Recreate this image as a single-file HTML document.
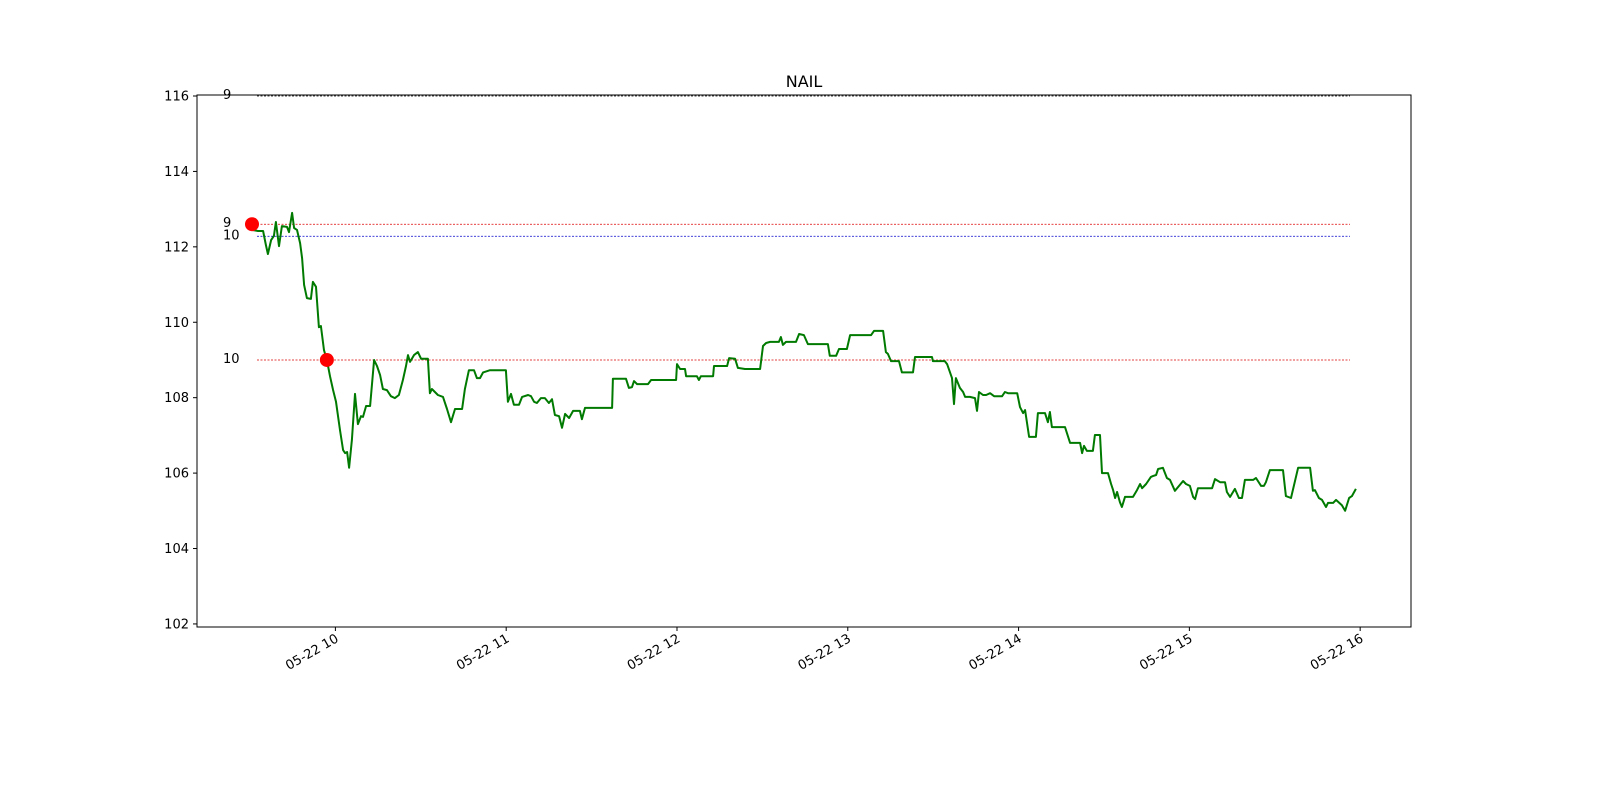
<!DOCTYPE html>
<html><head><meta charset="utf-8"><style>
body{margin:0;background:#fff}
svg{font-family:"DejaVu Sans","Liberation Sans",sans-serif}
</style></head><body>
<svg id="chart" width="1600" height="800" xmlns="http://www.w3.org/2000/svg">
<rect width="1600" height="800" fill="#fff"/>
<text x="804" y="87" font-size="16" text-anchor="middle">NAIL</text>
<g id="levels"></g>
<g id="series"></g>
<g id="markers"></g>
<g id="yaxis"></g>
<g id="xaxis"></g>
<rect x="197" y="95" width="1214" height="532" fill="none" stroke="#000" stroke-width="1"/>
</svg>
<script>
const minutes=[0.7,2.8,4.6,5.6,6.3,7.4,8.4,9.1,10.2,11.2,13,13.7,14.8,15.5,16.5,17.6,18.3,19,20,21.4,22.1,23.2,24.2,24.9,26,27,28.1,29.2,30.2,31.6,32.7,33.4,34.1,34.8,35.8,36.9,37.9,39,39.7,40.8,42.2,43.6,44.6,45.7,46.7,48.1,49.5,50.9,52.3,53.7,54.8,55.5,56.2,57.6,59,60.1,62.5,63.2,63.9,66,67.8,69.2,70.6,72,74.5,75.5,76.9,78.7,79.7,80.8,81.9,84.3,89.9,90.6,91.7,92.7,94.5,95.6,97.7,98.7,99.8,100.8,102.2,103.6,105,106.1,107.1,108.6,109.6,110.7,112.1,113.5,115.9,116.6,117.7,127.2,127.5,132.1,133.1,134.2,134.9,136,139.8,140.9,149.7,150,151.1,152.8,153.2,157,157.7,158.4,162.7,163,167.6,168.3,170.4,171.4,173.9,179.2,180.2,181.3,182.7,185.8,186.5,187.2,188.3,191.8,192.9,194.6,196,203,203.7,205.9,206.9,209.7,210.8,218.2,219.2,222.4,223.4,224.1,225.2,228,229,232.9,233.6,239.6,239.9,244.1,244.9,246.6,247.3,248,249.4,250.5,251.2,252.9,254.7,255.4,256.1,257.5,258.6,260,261.4,264.2,265.2,266.3,269.5,270.5,271.6,272.3,273.7,276.1,276.8,279.3,280.3,281,281.7,286.3,288.1,291.6,292.3,293,294,296.1,296.8,298.6,299.3,301.4,302.5,303.2,303.9,304.6,305.6,306.3,307.4,310.2,311.6,312.7,313.4,314.8,316.5,317.2,318.3,319,320.7,322.1,323.2,324.9,326,327.8,328.8,330.2,331.3,332,333,338,339,340.8,342.5,343.2,344.3,346,347.4,348.5,349.5,352.4,353.4,355.2,356.2,356.9,358.3,362.9,363.9,365.7,368.2,372.4,373.4,374.1,375.5,376.6,378,378.7,380.5,381.5,383.6,384.7,386.1,387.1,388.5];
const prices=[112.45,112.42,112.42,112.05,111.81,112.18,112.29,112.66,112.02,112.55,112.53,112.39,112.90,112.50,112.45,112.10,111.70,110.99,110.64,110.62,111.07,110.94,109.87,109.90,109.26,109.00,108.57,108.20,107.89,107.14,106.61,106.53,106.56,106.14,106.88,108.10,107.30,107.51,107.49,107.78,107.78,109.00,108.84,108.60,108.23,108.20,108.04,107.99,108.07,108.47,108.84,109.13,108.95,109.13,109.21,109.03,109.03,108.12,108.23,108.07,108.02,107.70,107.35,107.70,107.70,108.23,108.73,108.73,108.52,108.52,108.67,108.73,108.73,107.89,108.10,107.81,107.81,108.02,108.07,108.04,107.89,107.86,107.99,107.99,107.86,107.96,107.54,107.51,107.20,107.57,107.46,107.65,107.65,107.43,107.73,107.73,108.50,108.50,108.26,108.28,108.44,108.36,108.36,108.47,108.47,108.89,108.76,108.76,108.57,108.57,108.47,108.57,108.57,108.84,108.84,109.05,109.03,108.79,108.76,108.76,109.37,109.45,109.48,109.48,109.61,109.40,109.48,109.48,109.69,109.66,109.42,109.42,109.11,109.11,109.29,109.29,109.66,109.66,109.77,109.77,109.21,109.16,108.97,108.97,108.67,108.67,109.08,109.08,108.97,108.97,108.89,108.52,107.83,108.52,108.26,108.15,108.02,108.02,107.99,107.65,108.15,108.07,108.07,108.12,108.04,108.04,108.15,108.12,108.12,107.75,107.59,107.67,106.96,106.96,107.59,107.59,107.35,107.62,107.22,107.22,106.80,106.80,106.53,106.72,106.59,106.59,107.01,107.01,106.00,106.00,105.71,105.55,105.34,105.50,105.23,105.10,105.37,105.37,105.55,105.71,105.60,105.71,105.90,105.92,105.95,106.11,106.14,105.87,105.82,105.53,105.63,105.79,105.71,105.66,105.37,105.31,105.60,105.60,105.84,105.76,105.76,105.50,105.37,105.58,105.34,105.34,105.82,105.82,105.87,105.66,105.66,105.76,106.08,106.08,105.39,105.34,106.14,106.14,105.53,105.55,105.34,105.29,105.10,105.21,105.21,105.29,105.15,105.00,105.34,105.39,105.58];
const levelValues=[116.0,112.6,112.28,109.0];
const levelLabels=["9","9","10","10"];
const levelColors=["#000","#d00","#00c","#d00"];
const markerMinutes=[0.7,27];
const markerPrices=[112.6,109.0];
const yTicks=[102,104,106,108,110,112,114,116];
const xTickMinutes=[30,90,150,210,270,330,390];
const xTickLabels=["05-22 10","05-22 11","05-22 12","05-22 13","05-22 14","05-22 15","05-22 16"];

const NS="http://www.w3.org/2000/svg";
const xS=m=>250+m/0.3513;
const yS=p=>96+(116-p)*37.71;
function mk(tag,attrs,parent){const e=document.createElementNS(NS,tag);for(const k in attrs)e.setAttribute(k,attrs[k]);parent.appendChild(e);return e;}

const lv=document.getElementById('levels');
levelValues.forEach((v,i)=>{
  const l=mk('line',{x1:257,x2:1350,y1:yS(v),y2:yS(v),stroke:levelColors[i],'stroke-width':0.8,'stroke-dasharray':'2,1.5'},lv);
  
  
  const t=mk('text',{x:223,y:yS(v)+3,'font-size':13},lv);
  t.textContent=levelLabels[i];
  
  
});

const sg=document.getElementById('series');
const n=Math.min(minutes.length,prices.length);
const pts=[];
for(let i=0;i<n;i++)pts.push(xS(minutes[i]).toFixed(1)+','+yS(prices[i]).toFixed(1));
const pl=mk('polyline',{points:pts.join(' '),fill:'none',stroke:'#007a00','stroke-width':2,'stroke-linejoin':'round'},sg);



const mg=document.getElementById('markers');
markerMinutes.forEach((m,i)=>{
  const c=mk('circle',{cx:xS(m),cy:yS(markerPrices[i]),r:7,fill:'#f00'},mg);
  
  
});

const ya=document.getElementById('yaxis');
yTicks.forEach(v=>{
  const y=yS(v);
  const tk=mk('line',{x1:193,x2:197,y1:y,y2:y,stroke:'#000'},ya);
  
  
  const t=mk('text',{x:189,y:y+4.5,'font-size':13,'text-anchor':'end'},ya);
  t.textContent=v;
  
  
});

const xa=document.getElementById('xaxis');
xTickMinutes.forEach((m,i)=>{
  const x=xS(m);
  const tk=mk('line',{x1:x,x2:x,y1:627,y2:631,stroke:'#000'},xa);
  
  
  const t=mk('text',{x:x+4,y:641,'font-size':13,'text-anchor':'end',transform:'rotate(-30 '+(x+4)+' 641)'},xa);
  t.textContent=xTickLabels[i];
  
  
});
</script>
</body></html>
